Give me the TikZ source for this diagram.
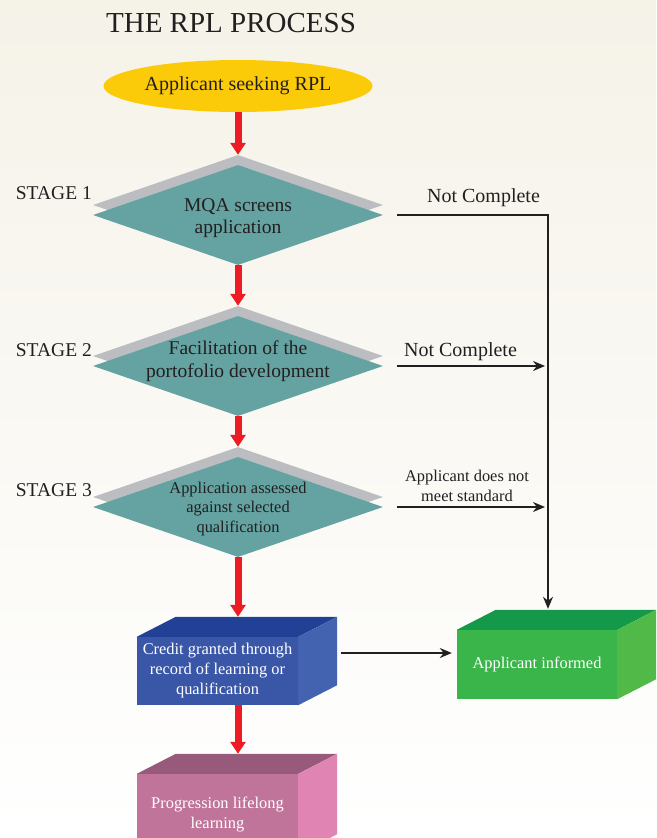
\documentclass[tikz,border=0pt]{standalone}
\usepackage{fontspec}
\setmainfont{Liberation Serif}
\usetikzlibrary{arrows.meta,calc,positioning,shapes.geometric}

\definecolor{inkgray}{RGB}{35,31,32}
\definecolor{papercream}{RGB}{245,242,232}
\definecolor{rplyellow}{RGB}{251,203,10}
\definecolor{rplteal}{RGB}{100,163,162}
\definecolor{rplshadow}{RGB}{187,189,193}
\definecolor{rplred}{RGB}{237,28,36}
\definecolor{bluefront}{RGB}{58,87,167}
\definecolor{bluetop}{RGB}{34,64,150}
\definecolor{blueside}{RGB}{67,98,175}
\definecolor{greenfront}{RGB}{58,181,74}
\definecolor{greentop}{RGB}{20,152,73}
\definecolor{greenside}{RGB}{80,185,72}
\definecolor{pinkfront}{RGB}{193,116,154}
\definecolor{pinktop}{RGB}{152,90,122}
\definecolor{pinkside}{RGB}{224,133,179}

\tikzset{
  stagediamond/.style={diamond, fill=rplteal, minimum width=290pt, minimum height=100pt, inner sep=0pt},
  shadowdiamond/.style={diamond, fill=rplshadow, minimum width=290pt, minimum height=100pt, inner sep=0pt},
  bigtext/.style={text=inkgray, font=\fontsize{19.5}{22.5}\selectfont, align=center, inner sep=0pt},
  smalltext/.style={text=inkgray, font=\fontsize{16.4}{19.5}\selectfont, align=center, inner sep=0pt},
  stagelabel/.style={text=inkgray, font=\fontsize{19.5}{22}\selectfont, anchor=east, inner sep=0pt},
  boxfront/.style={minimum width=161pt, minimum height=68pt, inner sep=0pt, text=white, align=center, font=\fontsize{16.4}{20}\selectfont},
  redarrow/.style={draw=rplred, line width=7pt, -{Triangle[width=15pt,length=12pt]}},
  flowarrow/.style={draw=inkgray, line width=1.5pt, -{Stealth[length=12pt,width=10pt]}}
}

\begin{document}
\begin{tikzpicture}[x=1pt,y=-1pt]
            \clip (0,0) rectangle (656,838);
            \shade[top color=papercream, bottom color=white] (0,0) rectangle (656,838);

            \node[text=inkgray, font=\fontsize{29}{32}\selectfont] (title) at (231,23) {THE RPL PROCESS};
            \node[ellipse, fill=rplyellow, minimum width=269pt, minimum height=52pt, inner sep=0pt, text=inkgray, font=\fontsize{20}{22}\selectfont] (seeker) at (238,86) {Applicant seeking RPL};

            \node[shadowdiamond] (screen-sh) at (238,205) {};
            \node[stagediamond] (screen) at (238,215) {};
            \node[bigtext] (screen-txt) at (238,218) {MQA screens\\application};
            \node[stagelabel] (stage1) at (92,193) {STAGE 1};

            \node[shadowdiamond] (portfolio-sh) at (238,356) {};
            \node[stagediamond] (portfolio) at (238,366) {};
            \node[bigtext] (portfolio-txt) at (238,361) {Facilitation of the\\portofolio development};
            \node[stagelabel] (stage2) at (92,350) {STAGE 2};

            \node[shadowdiamond] (assess-sh) at (238,497) {};
            \node[stagediamond] (assess) at (238,507) {};
            \node[smalltext] (assess-txt) at (238,509) {Application assessed\\against selected\\qualification};
            \node[stagelabel] (stage3) at (92,490) {STAGE 3};

            \node[boxfront, fill=bluefront] (credit) at (217.5,671) {Credit granted through\\record of learning or\\qualification};
            \fill[bluetop] (credit.north west) -- ++(39,-20) -- ($(credit.north east)+(39,-20)$) -- (credit.north east) -- cycle;
            \fill[blueside] (credit.north east) -- ++(39,-20) -- ($(credit.south east)+(39,-20)$) -- (credit.south east) -- cycle;

            \node[boxfront, fill=greenfront, minimum width=160pt, minimum height=69pt] (informed) at (537,664.5) {Applicant informed};
            \fill[greentop] (informed.north west) -- ++(39,-20) -- ($(informed.north east)+(39,-20)$) -- (informed.north east) -- cycle;
            \fill[greenside] (informed.north east) -- ++(39,-20) -- ($(informed.south east)+(39,-20)$) -- (informed.south east) -- cycle;

            \node[boxfront, fill=pinkfront, minimum height=80pt] (progress) at (217.5,814) {Progression lifelong\\learning};
            \fill[pinktop] (progress.north west) -- ++(39,-20) -- ($(progress.north east)+(39,-20)$) -- (progress.north east) -- cycle;
            \fill[pinkside] (progress.north east) -- ++(39,-20) -- ($(progress.south east)+(39,-20)$) -- (progress.south east) -- cycle;

            \coordinate (credit-in) at ($(credit.north)+(0,-20)$);
            \coordinate (progress-in) at ($(progress.north)+(0,-20)$);
            \coordinate (informed-in) at ($(informed.north)+(11,-21)$);
            \coordinate (credit-out) at ($(credit.east)+(43,-18)$);

            \draw[redarrow] (seeker.south) -- (screen-sh.north);
            \draw[redarrow] (screen.south) -- (portfolio-sh.north);
            \draw[redarrow] (portfolio.south) -- (assess-sh.north);
            \draw[redarrow] (assess.south) -- (assess.south |- credit-in);
            \draw[redarrow] (assess.south |- credit.south) -- (assess.south |- progress-in);

            \draw[flowarrow] ([xshift=14pt]screen.east) -| (informed-in);
            \draw[flowarrow, shorten >=3pt] ([xshift=14pt]portfolio.east) -- (portfolio.east -| informed-in);
            \draw[flowarrow, shorten >=3pt] ([xshift=14pt]assess.east) -- (assess.east -| informed-in);
            \draw[flowarrow, shorten >=5pt] (credit-out) -- (credit-out -| informed.west);

            \node[text=inkgray, font=\fontsize{20}{22}\selectfont] (notdone1) at (483.5,198) {Not Complete};
            \node[text=inkgray, font=\fontsize{20}{22}\selectfont] (notdone2) at (460.5,352) {Not Complete};
            \node[smalltext] (notmet) at (467,486) {Applicant does not\\meet standard};
        \end{tikzpicture}
\end{document}
